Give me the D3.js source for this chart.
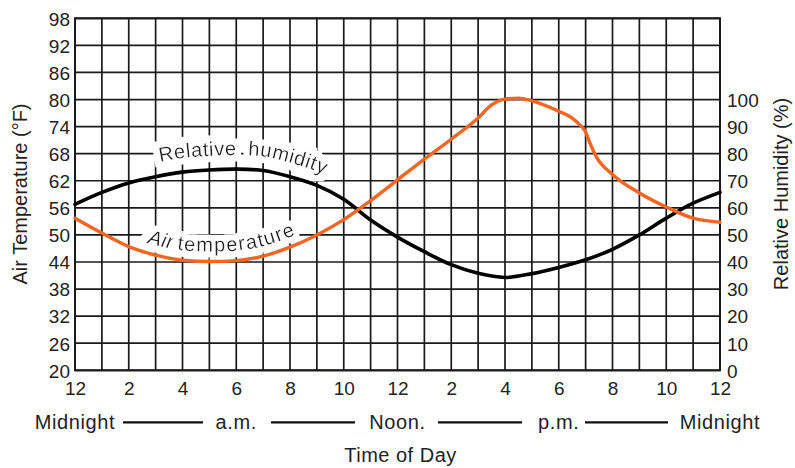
<!DOCTYPE html>
<html><head><meta charset="utf-8">
<script src="https://cdn.jsdelivr.net/npm/d3@7"></script>
<style>
html,body{margin:0;padding:0;background:#fff;}
svg{display:block;font-family:"Liberation Sans",Arial,Helvetica,sans-serif;}
</style></head>
<body>
<svg id="chart" width="795" height="468"></svg>
<script>
// ---------- data ----------
const hourTicks = [0,2,4,6,8,10,12,14,16,18,20,22,24];
const hourTickLabels = ["12","2","4","6","8","10","12","2","4","6","8","10","12"];
const tempTicks = [20,26,32,38,44,50,56,62,68,74,80,86,92,98];
const humidityTicks = [0,10,20,30,40,50,60,70,80,90,100];

const tempHours  = [0,1,2,3,4,5,6,7,8,9,10,11,12,13,14,15,15.5,16,16.5,17,18,18.5,18.8,19,19.15,19.4,20,21,22,23,24];
const tempValues = [53.7,50.4,47.4,45.5,44.4,44.1,44.3,45.3,47.3,50.0,53.4,57.6,62.2,66.8,71.2,75.9,78.8,80.1,80.3,79.7,77.4,75.9,74.3,72.8,70.5,67.3,63.4,59.3,56.2,53.7,52.8];

const rhHours  = [0,1,2,3,4,5,6,7,8,9,10,11,12,13,14,15,16,17,18,19,20,21,22,23,24];
const rhValues = [61.3,65.7,69.2,71.5,73.2,74.0,74.3,73.8,71.5,68.3,63.2,55.5,49.2,43.8,39.0,35.8,34.3,35.7,38.0,40.8,44.7,50.0,56.2,61.7,65.7];

const periodLabels = ["Midnight","a.m.","Noon.","p.m.","Midnight"];
const periodHours  = [0,6,12,18,24];

// ---------- layout ----------
const svg = d3.select("#chart");
const L = 75, R = 720, T = 18.3, B = 370.3;
const x = d3.scaleLinear().domain([0,24]).range([L,R]);
const yT = d3.scaleLinear().domain([20,98]).range([B,T]);
const yH = d3.scaleLinear().domain([0,130]).range([B,T]);
const orange = "#f26522";

// halo filter for curve labels
const defs = svg.append("defs");
const f = defs.append("filter").attr("id","halo").attr("x","-10%").attr("y","-50%").attr("width","120%").attr("height","200%");
f.append("feMorphology").attr("in","SourceAlpha").attr("operator","dilate").attr("radius",6).attr("result","dil");
f.append("feFlood").attr("flood-color","#fff").attr("result","white");
f.append("feComposite").attr("in","white").attr("in2","dil").attr("operator","in").attr("result","bg");
const fm = f.append("feMerge");
fm.append("feMergeNode").attr("in","bg");
fm.append("feMergeNode").attr("in","SourceGraphic");

// grid
const grid = svg.append("g").attr("stroke","#1a1a1a").attr("stroke-width",1.7);
grid.selectAll("line.v").data(d3.range(0,25)).join("line")
  .attr("x1",d=>x(d)).attr("x2",d=>x(d)).attr("y1",T).attr("y2",B);
grid.selectAll("line.h").data(tempTicks).join("line")
  .attr("y1",d=>yT(d)).attr("y2",d=>yT(d)).attr("x1",L).attr("x2",R);
svg.append("rect").attr("x",L).attr("y",T).attr("width",R-L).attr("height",B-T)
  .attr("fill","none").attr("stroke","#1a1a1a").attr("stroke-width",2);

// axes
const tickFont = "19px";
const ax = svg.append("g").attr("transform",`translate(0,${B})`)
  .call(d3.axisBottom(x).tickValues(hourTicks).tickFormat((d,i)=>hourTickLabels[i]).tickSize(0).tickPadding(11));
const ay = svg.append("g").attr("transform",`translate(${L},0)`)
  .call(d3.axisLeft(yT).tickValues(tempTicks).tickSize(0).tickPadding(5));
const ar = svg.append("g").attr("transform",`translate(${R},0)`)
  .call(d3.axisRight(yH).tickValues(humidityTicks).tickSize(0).tickPadding(7));
[ax,ay,ar].forEach(a=>{
  a.select(".domain").remove();
  a.selectAll("text").attr("font-size",tickFont).attr("fill","#222")
   .attr("font-family","Liberation Sans, Arial, sans-serif");
});
ay.selectAll("text").attr("dy","0.36em");
ar.selectAll("text").attr("dy","0.36em");

// axis titles
svg.append("text").attr("transform","translate(27,194) rotate(-90)")
  .attr("text-anchor","middle").attr("font-size","20px").attr("fill","#222")
  .text("Air Temperature (°F)");
svg.append("text").attr("transform","translate(788,194) rotate(-90)")
  .attr("text-anchor","middle").attr("font-size","20px").attr("fill","#222")
  .text("Relative Humidity (%)");

// bottom period row
const pr = svg.append("g").attr("font-size","20px").attr("fill","#222");
pr.selectAll("text").data(periodLabels).join("text")
  .attr("x",(d,i)=>x(periodHours[i])).attr("y",428.5).attr("text-anchor","middle")
  .attr("letter-spacing","0.6px").text(d=>d);
const dashSegs = [[123,203],[271,355],[438,522],[585,668]];
pr.selectAll("line").data(dashSegs).join("line")
  .attr("x1",d=>d[0]).attr("x2",d=>d[1]).attr("y1",422.3).attr("y2",422.3)
  .attr("stroke","#111").attr("stroke-width",2.3);
svg.append("text").attr("x",400.5).attr("y",461.5).attr("text-anchor","middle")
  .attr("font-size","20px").attr("fill","#222").attr("letter-spacing","0.5px").text("Time of Day");

// line generators
const tempLine = d3.line().x(d=>x(d[0])).y(d=>yT(d[1])).curve(d3.curveMonotoneX);
const rhLine = d3.line().x(d=>x(d[0])).y(d=>yH(d[1])).curve(d3.curveCatmullRom.alpha(0.5));
const tempData = tempHours.map((h,i)=>[h,tempValues[i]]);
const rhData = rhHours.map((h,i)=>[h,rhValues[i]]);

// label guide paths: the data curves shifted up a little
const labelLine = d3.line().curve(d3.curveCatmullRom.alpha(0.5));
function guide(data, gen, dy){
  return data.map(d=>[gen.x()(d), gen.y()(d) - dy]);
}
defs.append("path").attr("id","rhLabelPath").attr("d",labelLine(guide(rhData,rhLine,14)));
defs.append("path").attr("id","tLabelPath").attr("d",labelLine(guide(tempData.filter(d=>d[0]<=12),tempLine,10)));

function offsetForX(id, targetX){
  const p = document.getElementById(id);
  let lo=0, hi=p.getTotalLength();
  for(let k=0;k<40;k++){const m=(lo+hi)/2; if(p.getPointAtLength(m).x<targetX) lo=m; else hi=m;}
  return lo;
}
const labs = svg.append("g").attr("font-size","20px").attr("fill","#222");
function curveLabel(id, startX, txt, italic, spacing){
  const t = labs.append("text").attr("letter-spacing",spacing+"px").attr("word-spacing","5px")
    .attr("filter","url(#halo)");
  if (italic) t.attr("font-style","italic");
  t.append("textPath").attr("href","#"+id).attr("startOffset",offsetForX(id,startX)).text(txt);
}
curveLabel("rhLabelPath",160,"Relative humidity",false,0.6);
curveLabel("tLabelPath",147,"Air",true,0.6);
curveLabel("tLabelPath",177,"temperature",false,1.3);

// data curves (on top of the label halos)
svg.append("path").attr("d",rhLine(rhData)).attr("fill","none")
  .attr("stroke","#000").attr("stroke-width",3.6).attr("stroke-linecap","round");
svg.append("path").attr("d",tempLine(tempData)).attr("fill","none")
  .attr("stroke",orange).attr("stroke-width",3.4).attr("stroke-linecap","round");
</script>
</body></html>
